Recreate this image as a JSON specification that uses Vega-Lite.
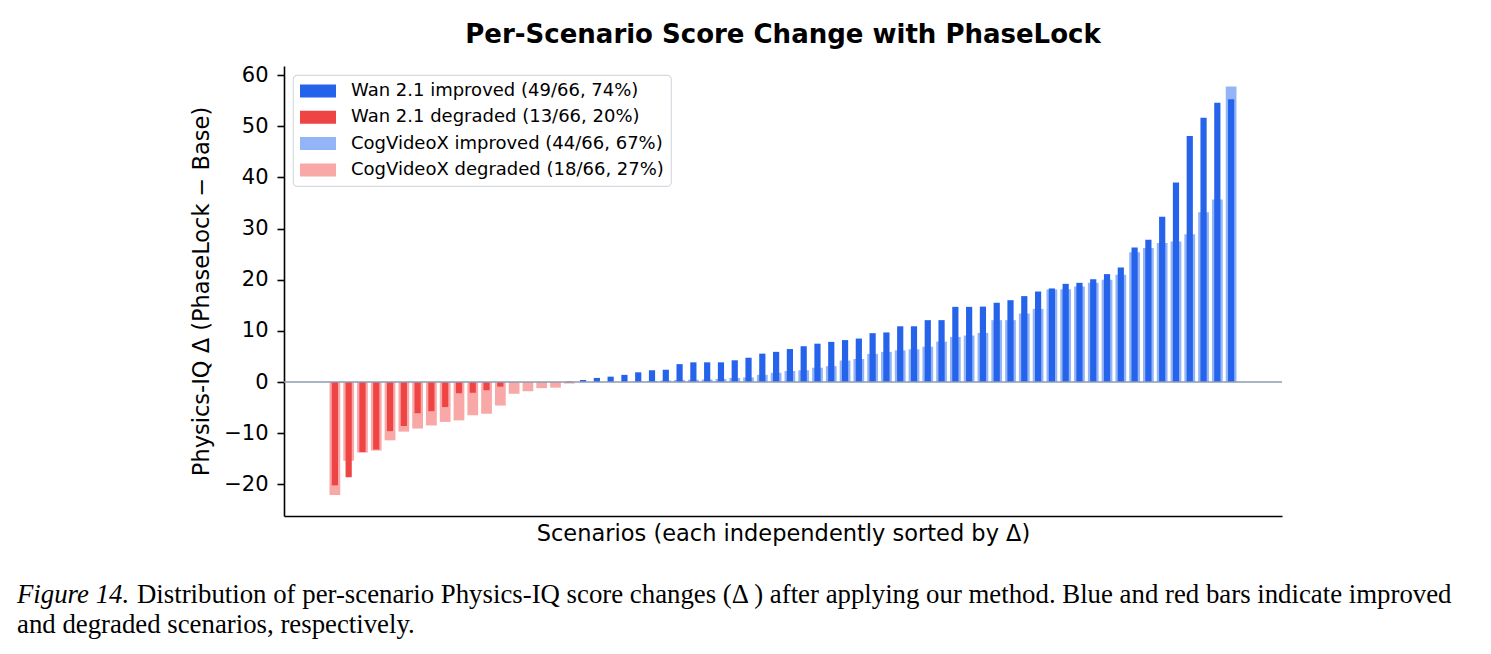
{
  "$schema": "https://vega.github.io/schema/vega-lite/v6.json",
  "background": "white",
  "padding": {"left": 17, "top": 22, "right": 10, "bottom": 10},
  "config": {"view": {"stroke": null}, "font": "DejaVu Sans", "legend": {"strokeWidth": 1.2}},
  "bounds": "flush",
  "spacing": 64,
  "vconcat": [
    {
      "width": 998,
      "height": 450,
      "title": {"text": "Per-Scenario Score Change with PhaseLock", "fontSize": 26, "fontWeight": "bold", "font": "DejaVu Sans", "color": "black", "anchor": "middle", "offset": 16},
      "data": {"values": [
        {"model":"Wan 2.1","rank":0,"delta":-20.2},{"model":"Wan 2.1","rank":1,"delta":-18.6},{"model":"Wan 2.1","rank":2,"delta":-13.7},{"model":"Wan 2.1","rank":3,"delta":-13.2},{"model":"Wan 2.1","rank":4,"delta":-9.6},{"model":"Wan 2.1","rank":5,"delta":-8.6},{"model":"Wan 2.1","rank":6,"delta":-6.1},{"model":"Wan 2.1","rank":7,"delta":-5.7},{"model":"Wan 2.1","rank":8,"delta":-4.9},{"model":"Wan 2.1","rank":9,"delta":-2.2},
        {"model":"Wan 2.1","rank":10,"delta":-2.1},{"model":"Wan 2.1","rank":11,"delta":-1.6},{"model":"Wan 2.1","rank":12,"delta":-0.9},{"model":"Wan 2.1","rank":13,"delta":0},{"model":"Wan 2.1","rank":14,"delta":0},{"model":"Wan 2.1","rank":15,"delta":0},{"model":"Wan 2.1","rank":16,"delta":0},{"model":"Wan 2.1","rank":17,"delta":0.1},{"model":"Wan 2.1","rank":18,"delta":0.4},{"model":"Wan 2.1","rank":19,"delta":0.8},
        {"model":"Wan 2.1","rank":20,"delta":1.05},{"model":"Wan 2.1","rank":21,"delta":1.4},{"model":"Wan 2.1","rank":22,"delta":1.9},{"model":"Wan 2.1","rank":23,"delta":2.3},{"model":"Wan 2.1","rank":24,"delta":2.4},{"model":"Wan 2.1","rank":25,"delta":3.5},{"model":"Wan 2.1","rank":26,"delta":3.85},{"model":"Wan 2.1","rank":27,"delta":3.85},{"model":"Wan 2.1","rank":28,"delta":3.85},{"model":"Wan 2.1","rank":29,"delta":4.25},
        {"model":"Wan 2.1","rank":30,"delta":4.75},{"model":"Wan 2.1","rank":31,"delta":5.55},{"model":"Wan 2.1","rank":32,"delta":5.9},{"model":"Wan 2.1","rank":33,"delta":6.45},{"model":"Wan 2.1","rank":34,"delta":7.0},{"model":"Wan 2.1","rank":35,"delta":7.5},{"model":"Wan 2.1","rank":36,"delta":7.85},{"model":"Wan 2.1","rank":37,"delta":8.2},{"model":"Wan 2.1","rank":38,"delta":8.5},{"model":"Wan 2.1","rank":39,"delta":9.55},
        {"model":"Wan 2.1","rank":40,"delta":9.7},{"model":"Wan 2.1","rank":41,"delta":10.9},{"model":"Wan 2.1","rank":42,"delta":10.9},{"model":"Wan 2.1","rank":43,"delta":12.1},{"model":"Wan 2.1","rank":44,"delta":12.1},{"model":"Wan 2.1","rank":45,"delta":14.7},{"model":"Wan 2.1","rank":46,"delta":14.7},{"model":"Wan 2.1","rank":47,"delta":14.75},{"model":"Wan 2.1","rank":48,"delta":15.5},{"model":"Wan 2.1","rank":49,"delta":16.0},
        {"model":"Wan 2.1","rank":50,"delta":16.8},{"model":"Wan 2.1","rank":51,"delta":17.7},{"model":"Wan 2.1","rank":52,"delta":18.3},{"model":"Wan 2.1","rank":53,"delta":19.2},{"model":"Wan 2.1","rank":54,"delta":19.4},{"model":"Wan 2.1","rank":55,"delta":20.1},{"model":"Wan 2.1","rank":56,"delta":21.1},{"model":"Wan 2.1","rank":57,"delta":22.4},{"model":"Wan 2.1","rank":58,"delta":26.3},{"model":"Wan 2.1","rank":59,"delta":27.8},
        {"model":"Wan 2.1","rank":60,"delta":32.3},{"model":"Wan 2.1","rank":61,"delta":39.0},{"model":"Wan 2.1","rank":62,"delta":48.1},{"model":"Wan 2.1","rank":63,"delta":51.7},{"model":"Wan 2.1","rank":64,"delta":54.6},{"model":"Wan 2.1","rank":65,"delta":55.3},
        {"model":"CogVideoX","rank":0,"delta":-22.1},{"model":"CogVideoX","rank":1,"delta":-15.4},{"model":"CogVideoX","rank":2,"delta":-13.8},{"model":"CogVideoX","rank":3,"delta":-13.4},{"model":"CogVideoX","rank":4,"delta":-11.4},{"model":"CogVideoX","rank":5,"delta":-9.7},{"model":"CogVideoX","rank":6,"delta":-9.1},{"model":"CogVideoX","rank":7,"delta":-8.5},{"model":"CogVideoX","rank":8,"delta":-7.8},{"model":"CogVideoX","rank":9,"delta":-7.5},
        {"model":"CogVideoX","rank":10,"delta":-6.5},{"model":"CogVideoX","rank":11,"delta":-6.2},{"model":"CogVideoX","rank":12,"delta":-4.6},{"model":"CogVideoX","rank":13,"delta":-2.3},{"model":"CogVideoX","rank":14,"delta":-1.8},{"model":"CogVideoX","rank":15,"delta":-1.2},{"model":"CogVideoX","rank":16,"delta":-1.1},{"model":"CogVideoX","rank":17,"delta":-0.3},{"model":"CogVideoX","rank":18,"delta":0},{"model":"CogVideoX","rank":19,"delta":0},
        {"model":"CogVideoX","rank":20,"delta":0},{"model":"CogVideoX","rank":21,"delta":0},{"model":"CogVideoX","rank":22,"delta":0.1},{"model":"CogVideoX","rank":23,"delta":0.2},{"model":"CogVideoX","rank":24,"delta":0.3},{"model":"CogVideoX","rank":25,"delta":0.4},{"model":"CogVideoX","rank":26,"delta":0.45},{"model":"CogVideoX","rank":27,"delta":0.5},{"model":"CogVideoX","rank":28,"delta":0.6},{"model":"CogVideoX","rank":29,"delta":0.8},
        {"model":"CogVideoX","rank":30,"delta":0.9},{"model":"CogVideoX","rank":31,"delta":1.4},{"model":"CogVideoX","rank":32,"delta":1.8},{"model":"CogVideoX","rank":33,"delta":2.15},{"model":"CogVideoX","rank":34,"delta":2.3},{"model":"CogVideoX","rank":35,"delta":2.8},{"model":"CogVideoX","rank":36,"delta":3.1},{"model":"CogVideoX","rank":37,"delta":4.2},{"model":"CogVideoX","rank":38,"delta":4.5},{"model":"CogVideoX","rank":39,"delta":5.5},
        {"model":"CogVideoX","rank":40,"delta":5.9},{"model":"CogVideoX","rank":41,"delta":6.2},{"model":"CogVideoX","rank":42,"delta":6.4},{"model":"CogVideoX","rank":43,"delta":6.9},{"model":"CogVideoX","rank":44,"delta":7.9},{"model":"CogVideoX","rank":45,"delta":8.8},{"model":"CogVideoX","rank":46,"delta":9.1},{"model":"CogVideoX","rank":47,"delta":9.6},{"model":"CogVideoX","rank":48,"delta":12.1},{"model":"CogVideoX","rank":49,"delta":12.1},
        {"model":"CogVideoX","rank":50,"delta":13.4},{"model":"CogVideoX","rank":51,"delta":14.3},{"model":"CogVideoX","rank":52,"delta":18.1},{"model":"CogVideoX","rank":53,"delta":18.15},{"model":"CogVideoX","rank":54,"delta":18.7},{"model":"CogVideoX","rank":55,"delta":19.4},{"model":"CogVideoX","rank":56,"delta":20.0},{"model":"CogVideoX","rank":57,"delta":21.0},{"model":"CogVideoX","rank":58,"delta":25.4},{"model":"CogVideoX","rank":59,"delta":26.2},
        {"model":"CogVideoX","rank":60,"delta":27.2},{"model":"CogVideoX","rank":61,"delta":27.5},{"model":"CogVideoX","rank":62,"delta":28.9},{"model":"CogVideoX","rank":63,"delta":33.2},{"model":"CogVideoX","rank":64,"delta":35.7},{"model":"CogVideoX","rank":65,"delta":57.8}
      ]},
      "transform": [
        {"calculate": "datum.model + (datum.delta < 0 ? ' degraded' : ' improved')", "as": "group"},
        {"calculate": "datum.model == 'CogVideoX' ? 0.39 : 0.225", "as": "half"},
        {"calculate": "datum.rank - datum.half", "as": "left"},
        {"calculate": "datum.rank + datum.half", "as": "right"}
      ],
      "layer": [
        {
          "transform": [{"filter": "datum.model == 'CogVideoX'"}],
          "mark": {"type": "rect"},
          "encoding": {
            "x": {"field": "left", "type": "quantitative", "scale": {"domain": [-3.69, 68.69], "nice": false, "zero": false},
                  "axis": {"labels": false, "ticks": false, "grid": false, "domainColor": "black", "domainWidth": 1.6, "title": "Scenarios (each independently sorted by Δ)", "titleFontSize": 22.5, "titleFontWeight": "normal", "titleColor": "black", "titlePadding": 6}},
            "x2": {"field": "right"},
            "y": {"field": "delta", "type": "quantitative", "scale": {"domain": [-26.2, 61.8], "nice": false, "zero": false},
                  "axis": {"values": [-20, -10, 0, 10, 20, 30, 40, 50, 60], "grid": false, "domainColor": "black", "domainWidth": 1.6, "tickColor": "black", "tickWidth": 1.6, "tickSize": 7, "labelFontSize": 21, "labelColor": "black", "labelPadding": 9, "title": "Physics-IQ Δ (PhaseLock − Base)", "titleFontSize": 22.5, "titleFontWeight": "normal", "titleColor": "black", "titlePadding": 10}},
            "y2": {"datum": 0},
            "color": {"field": "group", "type": "nominal",
                      "scale": {"domain": ["Wan 2.1 improved", "Wan 2.1 degraded", "CogVideoX improved", "CogVideoX degraded"], "range": ["#2563eb", "#ef4444", "#93b4f6", "#f9a8a8"]},
                      "legend": {"title": null, "orient": "top-left", "offset": 9, "padding": 7, "fillColor": "white", "strokeColor": "#d5dae2", "cornerRadius": 4,
                                 "symbolType": "M-1,-0.72H3V0.72H-1Z", "symbolSize": 324, "symbolStrokeWidth": 0, "symbolOpacity": 1,
                                 "labelFontSize": 18, "labelColor": "black", "labelOffset": 33, "labelLimit": 500, "rowPadding": 8.3,
                                 "labelExpr": "datum.label == 'Wan 2.1 improved' ? 'Wan 2.1 improved (49/66, 74%)' : datum.label == 'Wan 2.1 degraded' ? 'Wan 2.1 degraded (13/66, 20%)' : datum.label == 'CogVideoX improved' ? 'CogVideoX improved (44/66, 67%)' : 'CogVideoX degraded (18/66, 27%)'"}}
          }
        },
        {
          "transform": [{"filter": "datum.model == 'Wan 2.1'"}],
          "mark": {"type": "rect"},
          "encoding": {
            "x": {"field": "left", "type": "quantitative"},
            "x2": {"field": "right"},
            "y": {"field": "delta", "type": "quantitative"},
            "y2": {"datum": 0},
            "color": {"field": "group", "type": "nominal"}
          }
        },
        {
          "data": {"values": [{}]},
          "mark": {"type": "rule", "color": "#8d9bb0", "strokeWidth": 1.5},
          "encoding": {"y": {"datum": 0}}
        }
      ]
    },
    {
      "width": 1191,
      "height": 60,
      "data": {"values": [
        {"line": 1, "part": "lead", "text": "Figure 14."},
        {"line": 1, "part": "body", "text": "Distribution of per-scenario Physics-IQ score changes (Δ ) after applying our method. Blue and red bars indicate improved"},
        {"line": 2, "part": "body", "text": "and degraded scenarios, respectively."}
      ]},
      "encoding": {
        "y": {"field": "line", "type": "ordinal", "axis": null},
        "text": {"field": "text"}
      },
      "layer": [
        {"transform": [{"filter": "datum.part == 'lead'"}],
         "mark": {"type": "text", "align": "left", "baseline": "middle", "font": "Liberation Serif", "fontSize": 26.8, "fontStyle": "italic", "color": "black", "x": 0, "dx": -267}},
        {"transform": [{"filter": "datum.line == 1 && datum.part == 'body'"}],
         "mark": {"type": "text", "align": "left", "baseline": "middle", "font": "Liberation Serif", "fontSize": 26.8, "color": "black", "x": 0, "dx": -147}},
        {"transform": [{"filter": "datum.line == 2"}],
         "mark": {"type": "text", "align": "left", "baseline": "middle", "font": "Liberation Serif", "fontSize": 26.8, "color": "black", "x": 0, "dx": -267}}
      ]
    }
  ]
}
